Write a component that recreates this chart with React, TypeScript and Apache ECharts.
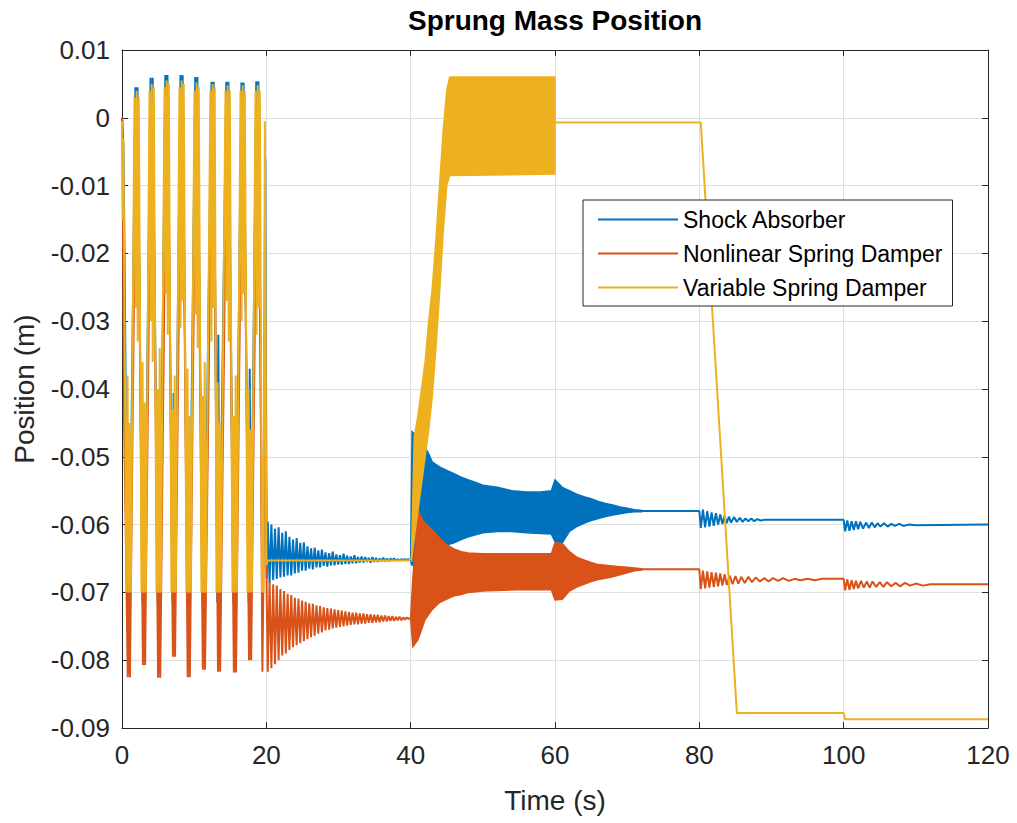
import React, { useEffect, useRef } from "react";
import * as echarts from "echarts";

const FONT = '"Liberation Sans", Arial, Helvetica, sans-serif';
const C_BLUE = "#0072BD";
const C_ORANGE = "#D95319";
const C_YELLOW = "#EDB120";
const NAMES = ["Shock Absorber", "Nonlinear Spring Damper", "Variable Spring Damper"];
const X_TICKS = [0, 20, 40, 60, 80, 100, 120];
const Y_MIN = -0.09;
const Y_MAX = 0.01;
const Y_STEP = 0.01;

// ---------- Shock Absorber (blue) ----------
const blueStart: [number, number][] = [
  [0, 0], [0.1, -0.002], [0.2, -0.0045], [0.35, -0.02],
  [0.75, -0.0715], [0.9, -0.062], [1.05, -0.0715],
  [1.85, 0.0045], [2.0, 0.0015], [2.15, 0.0045],
  [2.85, -0.0715], [3.0, -0.062], [3.15, -0.0715],
  [3.95, 0.0059], [4.1, -0.009], [4.25, 0.0059],
  [4.95, -0.0715], [5.1, -0.0524], [5.25, -0.0715],
  [6.0, 0.0063], [6.15, 0.0035], [6.3, 0.0063],
  [7.0, -0.0715], [7.15, -0.0406], [7.3, -0.0715],
  [8.1, 0.0063], [8.25, -0.0015], [8.4, 0.0063],
  [9.05, -0.0715], [9.2, -0.0568], [9.35, -0.0715],
  [10.15, 0.006], [10.3, 0.002], [10.45, 0.006],
  [11.15, -0.0715], [11.3, -0.045], [11.45, -0.0715],
  [12.4, 0.0053], [12.55, 0.001], [12.7, 0.0053],
  [13.2, -0.0715], [13.35, -0.032], [13.5, -0.0715],
  [14.45, 0.0053], [14.6, -0.003], [14.75, 0.0053],
  [15.45, -0.0715], [15.6, -0.0506], [15.75, -0.0715],
  [16.55, 0.0052], [16.7, 0.0018], [16.85, 0.0052],
  [17.55, -0.0715], [17.7, -0.037], [17.85, -0.0715],
  [18.6, 0.0054], [18.75, -0.005], [18.9, 0.0054],
  [19.45, -0.0715], [19.6, -0.062],
  [19.85, -0.006], [20.05, -0.068],
];
const blueSettle: [number, number][] = [
  [20.2, -0.0596], [20.45, -0.0686], [20.7, -0.06], [20.95, -0.0682],
  [21.2, -0.0606], [21.45, -0.068], [21.7, -0.0604], [21.95, -0.0678],
  [22.2, -0.0612], [22.45, -0.0677], [22.7, -0.061], [22.95, -0.0675],
  [23.2, -0.0618], [23.45, -0.0675], [23.7, -0.0622], [23.95, -0.0672],
  [24.2, -0.062], [24.45, -0.0671], [24.7, -0.0627], [24.95, -0.0668],
  [25.2, -0.0626], [25.45, -0.0668], [25.7, -0.0632], [25.95, -0.0665],
  [26.2, -0.0635], [26.45, -0.0666], [26.7, -0.0634], [26.95, -0.0663],
  [27.2, -0.0638], [27.45, -0.0663], [27.7, -0.0637], [27.95, -0.0661],
  [28.2, -0.0641], [28.45, -0.0662], [28.7, -0.0642], [28.95, -0.066],
  [29.2, -0.064], [29.45, -0.066], [29.7, -0.0644], [29.95, -0.0659],
  [30.2, -0.0645], [30.45, -0.0659], [30.7, -0.0643], [30.95, -0.0658],
  [31.2, -0.0646], [31.45, -0.0658], [31.7, -0.0647], [31.95, -0.0657],
  [32.2, -0.0645], [32.45, -0.0657], [32.7, -0.0648], [32.95, -0.0656],
  [33.2, -0.0647], [33.45, -0.0656], [33.7, -0.0648], [33.95, -0.0655],
  [34.2, -0.0649], [34.45, -0.0656], [34.7, -0.0648], [34.95, -0.0655],
  [35.2, -0.0649], [35.45, -0.0655], [35.7, -0.065], [35.95, -0.0654],
  [36.2, -0.0649], [36.45, -0.0654], [36.7, -0.065], [36.95, -0.0654],
  [37.2, -0.065], [37.45, -0.0653], [37.7, -0.065], [37.95, -0.0653],
  [38.2, -0.0651], [38.45, -0.0653], [38.7, -0.0651], [38.95, -0.0652],
  [39.2, -0.0651], [39.45, -0.0652], [39.7, -0.0651], [40.0, -0.0652],
];
// [t, lower, upper]
const blueBand: [number, number, number][] = [
  [40.0, -0.0655, -0.065], [40.2, -0.066, -0.0463], [40.8, -0.066, -0.047],
  [41.2, -0.068, -0.05], [41.8, -0.069, -0.0485], [42.4, -0.068, -0.0493],
  [43, -0.066, -0.0508], [44, -0.0645, -0.0515], [45, -0.063, -0.052],
  [46, -0.0627, -0.0525], [47, -0.0622, -0.053], [48, -0.0618, -0.0534],
  [49, -0.0615, -0.0538], [50, -0.0612, -0.0542], [52, -0.061, -0.0545],
  [54, -0.061, -0.055], [56, -0.0612, -0.0552], [58, -0.0613, -0.0552],
  [59.5, -0.0614, -0.055], [60, -0.0625, -0.0534], [61, -0.0627, -0.0545],
  [62, -0.061, -0.055], [63, -0.0603, -0.0555], [64, -0.0598, -0.0559],
  [65, -0.0594, -0.0562], [66, -0.0591, -0.0566], [67, -0.0588, -0.0569],
  [68, -0.0586, -0.0571], [69, -0.0584, -0.0574], [70, -0.0582, -0.0576],
  [71, -0.0581, -0.0578], [72, -0.0581, -0.0579],
];
const blueTail: [number, number][] = [
  [72, -0.058], [80, -0.058],
  [80.2, -0.0605], [80.5, -0.0578], [80.8, -0.0604], [81.1, -0.058], [81.4, -0.0603],
  [81.7, -0.0582], [82, -0.0602], [82.3, -0.0583], [82.6, -0.06], [82.9, -0.0585],
  [83.2, -0.0599], [83.5, -0.0587], [83.8, -0.0598], [84.1, -0.0588], [84.4, -0.0597],
  [84.8, -0.0589], [85.2, -0.0596], [85.6, -0.059], [86, -0.0596], [86.4, -0.0591],
  [86.8, -0.0595], [87.2, -0.0591], [87.6, -0.0595], [88, -0.0592], [88.5, -0.0594],
  [89, -0.0593], [100, -0.0593],
  [100.2, -0.061], [100.5, -0.0594], [100.8, -0.0609], [101.1, -0.0595], [101.4, -0.0608],
  [101.7, -0.0595], [102, -0.0607], [102.3, -0.0596], [102.7, -0.0606], [103.1, -0.0597],
  [103.5, -0.0605], [103.9, -0.0597], [104.3, -0.0604], [104.7, -0.0598], [105.1, -0.0603],
  [105.6, -0.0598], [106.1, -0.0603], [106.6, -0.0599], [107.1, -0.0602], [107.7, -0.0599],
  [108.3, -0.0602], [109, -0.06], [110, -0.0601], [120, -0.06],
];

// ---------- Nonlinear Spring Damper (orange) ----------
const orangeStart: [number, number][] = [
  [0, 0], [0.05, -0.0005], [0.3, -0.045],
  [0.8, -0.0825], [0.95, -0.07], [1.1, -0.0825],
  [1.9, -0.002], [2.05, -0.012], [2.2, -0.002],
  [2.9, -0.0807], [3.05, -0.068], [3.2, -0.0807],
  [4.0, -0.001], [4.15, -0.015], [4.3, -0.001],
  [5.0, -0.0826], [5.15, -0.066], [5.3, -0.0826],
  [6.1, -0.002], [6.25, -0.013], [6.4, -0.002],
  [7.05, -0.0795], [7.2, -0.069], [7.35, -0.0795],
  [8.15, -0.002], [8.3, -0.016], [8.45, -0.002],
  [9.1, -0.0825], [9.25, -0.067], [9.4, -0.0825],
  [10.2, -0.0022], [10.35, -0.014], [10.5, -0.0022],
  [11.2, -0.0814], [11.35, -0.068], [11.5, -0.0814],
  [12.45, -0.002], [12.6, -0.012], [12.75, -0.002],
  [13.3, -0.0817], [13.45, -0.066], [13.6, -0.0817],
  [14.5, -0.002], [14.65, -0.015], [14.8, -0.002],
  [15.5, -0.0818], [15.65, -0.068], [15.8, -0.0818],
  [16.6, -0.002], [16.75, -0.013], [16.9, -0.002],
  [17.6, -0.08], [17.75, -0.067], [17.9, -0.08],
  [18.7, -0.002], [18.85, -0.014], [19.0, -0.002],
  [19.45, -0.0817], [19.6, -0.068],
  [19.85, -0.03], [20.05, -0.07],
];
const orangeSettle: [number, number][] = [
  [20.2, -0.0817], [20.45, -0.0684], [20.7, -0.0812], [20.95, -0.0688],
  [21.2, -0.0806], [21.45, -0.069], [21.7, -0.08], [21.95, -0.0695],
  [22.2, -0.0793], [22.45, -0.0698], [22.7, -0.079], [22.95, -0.0702],
  [23.2, -0.0785], [23.45, -0.0704], [23.7, -0.0781], [23.95, -0.0708],
  [24.2, -0.0778], [24.45, -0.0709], [24.7, -0.0775], [24.95, -0.0712],
  [25.2, -0.0772], [25.45, -0.0714], [25.7, -0.0769], [25.95, -0.0716],
  [26.2, -0.0766], [26.45, -0.0717], [26.7, -0.0764], [26.95, -0.0719],
  [27.2, -0.0761], [27.45, -0.072], [27.7, -0.0759], [27.95, -0.0722],
  [28.2, -0.0756], [28.45, -0.0723], [28.7, -0.0755], [28.95, -0.0724],
  [29.2, -0.0753], [29.45, -0.0725], [29.7, -0.0752], [29.95, -0.0726],
  [30.2, -0.0751], [30.45, -0.0727], [30.7, -0.075], [30.95, -0.0728],
  [31.2, -0.0749], [31.45, -0.0729], [31.7, -0.0748], [31.95, -0.073],
  [32.2, -0.0747], [32.45, -0.073], [32.7, -0.0747], [32.95, -0.0731],
  [33.2, -0.0746], [33.45, -0.0731], [33.7, -0.0746], [33.95, -0.0732],
  [34.2, -0.0745], [34.45, -0.0732], [34.7, -0.0745], [34.95, -0.0733],
  [35.2, -0.0744], [35.45, -0.0733], [35.7, -0.0744], [35.95, -0.0734],
  [36.2, -0.0743], [36.45, -0.0734], [36.7, -0.0743], [36.95, -0.0735],
  [37.2, -0.0742], [37.45, -0.0735], [37.7, -0.0742], [37.95, -0.0736],
  [38.2, -0.0741], [38.45, -0.0736], [38.7, -0.0741], [38.95, -0.0737],
  [39.2, -0.074], [39.45, -0.0737], [39.7, -0.0739], [40.0, -0.0738],
];
const orangeBand: [number, number, number][] = [
  [40, -0.0739, -0.0736], [40.3, -0.078, -0.068], [41, -0.077, -0.0578],
  [41.5, -0.0755, -0.059], [42, -0.074, -0.0598], [43, -0.0725, -0.0608],
  [44, -0.0715, -0.062], [45, -0.071, -0.063], [46, -0.0705, -0.0636],
  [47, -0.0703, -0.064], [48, -0.07, -0.0642], [50, -0.0698, -0.0643],
  [55, -0.0696, -0.0643], [59.5, -0.0696, -0.0643], [60, -0.0711, -0.0627],
  [61, -0.071, -0.0628], [62, -0.0698, -0.064], [63, -0.0692, -0.0648],
  [64, -0.0688, -0.0652], [65, -0.0684, -0.0656], [66, -0.0681, -0.0659],
  [67, -0.0679, -0.066], [68, -0.0677, -0.0661], [69, -0.0674, -0.0662],
  [70, -0.0671, -0.0663], [71, -0.0668, -0.0664], [72, -0.0667, -0.0665],
];
const orangeTail: [number, number][] = [
  [72, -0.0666], [80, -0.0666],
  [80.2, -0.0695], [80.5, -0.0668], [80.8, -0.0694], [81.1, -0.0669], [81.4, -0.0693],
  [81.7, -0.067], [82, -0.0692], [82.3, -0.0671], [82.6, -0.0691], [82.9, -0.0672],
  [83.2, -0.069], [83.5, -0.0673], [83.8, -0.0689], [84.2, -0.0675], [84.6, -0.0688],
  [85, -0.0676], [85.4, -0.0687], [85.8, -0.0677], [86.3, -0.0686], [86.8, -0.0677],
  [87.3, -0.0685], [87.8, -0.0678], [88.4, -0.0684], [89, -0.0679], [89.6, -0.0684],
  [90.2, -0.0679], [90.9, -0.0683], [91.6, -0.0679], [92.4, -0.0683], [93.2, -0.068],
  [94, -0.0682], [95, -0.068], [96, -0.0682], [97, -0.068], [100, -0.068],
  [100.2, -0.0697], [100.5, -0.0681], [100.8, -0.0696], [101.1, -0.0682], [101.4, -0.0695],
  [101.7, -0.0683], [102, -0.0694], [102.4, -0.0683], [102.8, -0.0693], [103.2, -0.0684],
  [103.6, -0.0693], [104, -0.0684], [104.5, -0.0692], [105, -0.0685], [105.5, -0.0692],
  [106, -0.0685], [106.6, -0.0691], [107.2, -0.0686], [107.8, -0.0691], [108.5, -0.0686],
  [109.2, -0.069], [110, -0.0687], [111, -0.069], [112, -0.0688], [120, -0.0688],
];

// ---------- Variable Spring Damper (yellow) ----------
const yellowStart: [number, number][] = [
  [0, -0.0005], [0.1, -0.015], [0.2, -0.003], [0.35, -0.03],
  [0.62, -0.07], [0.77, -0.038], [0.92, -0.07], [1.07, -0.045], [1.22, -0.07],
  [1.73, 0.003], [1.88, -0.028], [2.03, 0.004], [2.18, -0.033], [2.33, 0.003],
  [2.7, -0.07], [2.85, -0.036], [3.0, -0.07], [3.15, -0.042], [3.3, -0.07],
  [3.81, 0.004], [3.96, -0.03], [4.11, 0.005], [4.26, -0.036], [4.41, 0.0045],
  [4.78, -0.07], [4.93, -0.04], [5.08, -0.07], [5.23, -0.034], [5.38, -0.07],
  [5.89, 0.0045], [6.04, -0.026], [6.19, 0.0055], [6.34, -0.032], [6.49, 0.005],
  [6.85, -0.07], [7.0, -0.043], [7.15, -0.07], [7.3, -0.038], [7.45, -0.07],
  [7.96, 0.0045], [8.11, -0.031], [8.26, 0.0055], [8.41, -0.027], [8.56, 0.005],
  [8.93, -0.07], [9.08, -0.037], [9.23, -0.07], [9.38, -0.044], [9.53, -0.07],
  [10.04, 0.004], [10.19, -0.029], [10.34, 0.0052], [10.49, -0.034], [10.64, 0.0045],
  [11.01, -0.07], [11.16, -0.041], [11.31, -0.07], [11.46, -0.036], [11.61, -0.07],
  [12.25, 0.004], [12.4, -0.033], [12.55, 0.005], [12.7, -0.028], [12.85, 0.0045],
  [13.09, -0.07], [13.24, -0.039], [13.39, -0.07], [13.54, -0.045], [13.69, -0.07],
  [14.34, 0.004], [14.49, -0.027], [14.64, 0.0048], [14.79, -0.033], [14.94, 0.004],
  [15.31, -0.07], [15.46, -0.044], [15.61, -0.07], [15.76, -0.038], [15.91, -0.07],
  [16.42, 0.004], [16.57, -0.03], [16.72, 0.0048], [16.87, -0.026], [17.02, 0.004],
  [17.39, -0.07], [17.54, -0.04], [17.69, -0.07], [17.84, -0.046], [17.99, -0.07],
  [18.5, 0.004], [18.65, -0.032], [18.8, 0.0048], [18.95, -0.028], [19.1, 0.004],
  [19.4, -0.07], [19.5, -0.05], [19.6, -0.07],
  [19.8, -0.0005], [20.0, -0.066],
];
const yellowHold: [number, number][] = [
  [20.2, -0.0653], [39.6, -0.0653], [40.1, -0.065],
];
const yellowBand: [number, number, number][] = [
  [40.1, -0.0655, -0.065], [40.5, -0.062, -0.047], [41, -0.058, -0.044],
  [41.5, -0.054, -0.04], [42, -0.05, -0.036], [42.5, -0.046, -0.03],
  [43, -0.041, -0.025], [43.5, -0.034, -0.018], [44, -0.026, -0.01],
  [44.5, -0.017, -0.002], [45, -0.01, 0.004], [45.4, -0.0085, 0.006],
  [59.8, -0.0083, 0.006], [60, -0.0083, 0.006],
];
const yellowTail: [number, number][] = [
  [60, -0.0007], [80.2, -0.0007], [85.2, -0.0878], [100, -0.0878],
  [100.2, -0.0887], [120, -0.0887],
];

function bandSeries(name: string, band: [number, number, number][], color: string) {
  return {
    type: "custom",
    name,
    data: band,
    encode: { x: 0, y: [1, 2] },
    silent: true,
    clip: true,
    renderItem: (params: any, api: any) => {
      if (params.dataIndex !== 0) return null;
      const upper = band.map((d) => api.coord([d[0], d[2]]));
      const lower = band.map((d) => api.coord([d[0], d[1]])).reverse();
      return {
        type: "polygon",
        shape: { points: upper.concat(lower) },
        style: { fill: color, stroke: color, lineWidth: 1.5 },
      };
    },
  };
}

function lineSeries(name: string, data: any[], color: string) {
  return {
    type: "line",
    name,
    data,
    symbol: "none",
    showSymbol: false,
    connectNulls: false,
    lineStyle: { color, width: 2 },
    itemStyle: { color },
    emphasis: { disabled: true },
  };
}

const axisCommon = {
  axisLine: { show: true, onZero: false, lineStyle: { color: "#262626", width: 1 } },
  axisTick: { show: true, inside: true, length: 6, lineStyle: { color: "#262626" } },
};

export default function App() {
  const ref = useRef<HTMLDivElement>(null);
  useEffect(() => {
    if (!ref.current) return;
    const chart = echarts.init(ref.current, undefined, { renderer: "svg" });
    const yFmt = (v: number) => (Math.abs(v) < 1e-9 ? "0" : v.toFixed(2));
    chart.setOption({
      animation: false,
      backgroundColor: "#ffffff",
      textStyle: { fontFamily: FONT },
      grid: { left: 122, right: 29, top: 50, bottom: 95, containLabel: false },
      graphic: [
        {
          type: "text",
          x: 555,
          y: 20,
          style: {
            text: "Sprung Mass Position",
            font: `bold 28px ${FONT}`,
            fill: "#000000",
            textAlign: "center",
            textVerticalAlign: "middle",
          },
        },
      ],
      legend: {
        data: NAMES,
        orient: "vertical",
        left: 583,
        top: 200,
        padding: [8, 10, 7, 14],
        itemGap: 11,
        itemWidth: 80,
        itemHeight: 14,
        backgroundColor: "#ffffff",
        borderColor: "#262626",
        borderWidth: 1,
        borderRadius: 0,
        selectedMode: false,
        itemStyle: { opacity: 0 },
        textStyle: { fontSize: 23, color: "#000000", fontFamily: FONT },
      },
      xAxis: [
        {
          type: "value",
          min: X_TICKS[0],
          max: X_TICKS[X_TICKS.length - 1],
          interval: X_TICKS[1] - X_TICKS[0],
          position: "bottom",
          ...axisCommon,
          axisLabel: { fontSize: 26, color: "#262626", margin: 14, fontFamily: FONT },
          splitLine: { show: true, lineStyle: { color: "#dfdfdf", width: 1 } },
          name: "Time (s)",
          nameLocation: "middle",
          nameGap: 58,
          nameTextStyle: { fontSize: 28, color: "#262626", fontFamily: FONT },
        },
        {
          type: "value",
          min: X_TICKS[0],
          max: X_TICKS[X_TICKS.length - 1],
          interval: X_TICKS[1] - X_TICKS[0],
          position: "top",
          ...axisCommon,
          axisLabel: { show: false },
          splitLine: { show: false },
        },
      ],
      yAxis: [
        {
          type: "value",
          min: Y_MIN,
          max: Y_MAX,
          interval: Y_STEP,
          position: "left",
          ...axisCommon,
          axisLabel: { fontSize: 26, color: "#262626", margin: 12, fontFamily: FONT, formatter: yFmt },
          splitLine: { show: true, lineStyle: { color: "#dfdfdf", width: 1 } },
          name: "Position (m)",
          nameLocation: "middle",
          nameGap: 84,
          nameTextStyle: { fontSize: 28, color: "#262626", fontFamily: FONT },
        },
        {
          type: "value",
          min: Y_MIN,
          max: Y_MAX,
          interval: Y_STEP,
          position: "right",
          ...axisCommon,
          axisLabel: { show: false },
          splitLine: { show: false },
        },
      ],
      series: [
        lineSeries(NAMES[0], [...blueStart, ...blueSettle, [40.05, "-"], ...blueTail], C_BLUE),
        bandSeries("blueBand", blueBand, C_BLUE),
        lineSeries(NAMES[1], [...orangeStart, ...orangeSettle, [40.05, "-"], ...orangeTail], C_ORANGE),
        bandSeries("orangeBand", orangeBand, C_ORANGE),
        lineSeries(NAMES[2], [...yellowStart, ...yellowHold, [40.15, "-"], ...yellowTail], C_YELLOW),
        bandSeries("yellowBand", yellowBand, C_YELLOW),
      ],
    });
    return () => chart.dispose();
  }, []);
  return (
    <div
      ref={ref}
      style={{ position: "absolute", left: 0, top: 0, width: 1017, height: 823 }}
    />
  );
}
